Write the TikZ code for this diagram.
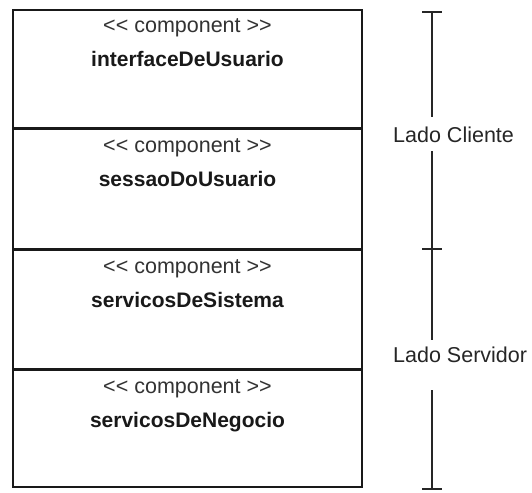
\documentclass[tikz,border=0pt]{standalone}
\usepackage{fontspec}
\setmainfont{Liberation Sans}
\newcommand\umlst{<\kern0pt< component >\kern0pt>}
\tikzset{
	compbox/.style={draw=black!90,line width=2pt,minimum width=349pt,inner sep=0pt},
	stereotxt/.style={anchor=base,inner sep=0pt,text=black!80,font=\fontsize{21.5}{26}\selectfont},
	compname/.style={anchor=base,inner sep=0pt,text=black!90,font=\fontsize{21}{26}\selectfont\bfseries},
	ladotxt/.style={anchor=base west,inner xsep=0pt,text=black!85,font=\fontsize{21.5}{26}\selectfont},
	rangeline/.style={line width=1.3pt,draw=black!85}
}
\begin{document}
\begin{tikzpicture}[x=1pt,y=-1pt]
			\useasboundingbox[fill=white] (0,0) rectangle (532,492);
			\node[compbox,minimum height=118pt] (ui) at (187.5,69) {};
			\node[compbox,minimum height=120pt] (sessao) at (187.5,189) {};
			\node[compbox,minimum height=119pt] (sistema) at (187.5,309.5) {};
			\node[compbox,minimum height=117pt] (negocio) at (187.5,428.5) {};
			\foreach \b/\n in {ui/interfaceDeUsuario,sessao/sessaoDoUsuario,sistema/servicosDeSistema,negocio/servicosDeNegocio}{
				\node[stereotxt] (\b-st) at ([yshift=-24pt]\b.north) {\umlst};
				\node[compname] (\b-nm) at ([yshift=-58pt]\b.north) {\n};
			}
			\coordinate (rtop) at (432,12);
			\coordinate (rmid) at (432,249);
			\coordinate (rbot) at (432,489);
			\node[ladotxt,inner ysep=9pt] (cliente) at (393,142) {Lado Cliente};
			\node[ladotxt,inner ysep=6pt,text depth=22pt] (servidor) at (393,362) {Lado Servidor};
			\draw[rangeline] (rtop) -- (cliente.north -| rtop);
			\draw[rangeline] (cliente.south -| rtop) -- (servidor.north -| rtop);
			\draw[rangeline] (servidor.south -| rtop) -- (rbot);
			\foreach \t in {rtop,rmid,rbot}
				\draw[rangeline] ([xshift=-10pt]\t) -- ([xshift=10pt]\t);
		\end{tikzpicture}
\end{document}
